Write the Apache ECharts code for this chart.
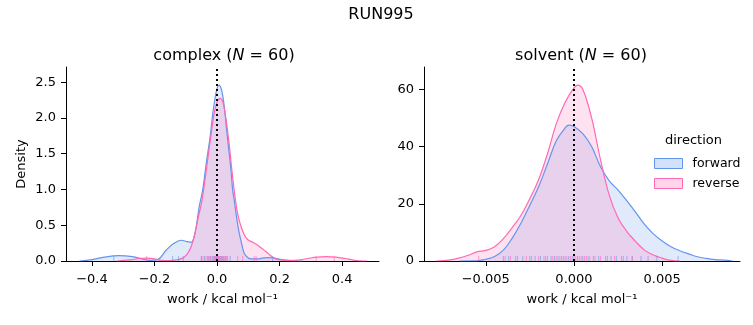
<!DOCTYPE html>
<html><head><meta charset="utf-8">
<script src="https://cdn.jsdelivr.net/npm/echarts@6/dist/echarts.min.js"></script>
<style>html,body{margin:0;padding:0;background:#fff}#c{width:753px;height:325px}</style>
</head><body><div id="c"></div>
<script>
// ---- complex panel: KDE curves ----
const cxFwdX = [-0.44,-0.40,-0.36,-0.313,-0.27,-0.24,-0.214,-0.19,-0.163,-0.14,-0.115,-0.095,-0.083,-0.07,-0.057,-0.046,-0.035,-0.022,-0.009,0.006,0.014,0.022,0.033,0.044,0.050,0.055,0.063,0.071,0.080,0.087,0.098,0.109,0.13,0.15,0.168,0.19,0.22,0.25,0.274];
const cxFwdY = [0,0.02,0.055,0.074,0.06,0.03,0.01,0.02,0.15,0.24,0.29,0.27,0.26,0.40,0.76,0.99,1.35,1.74,2.2,2.46,2.40,2.2,1.74,1.3,0.99,0.85,0.6,0.39,0.22,0.11,0.05,0.03,0.03,0.045,0.047,0.035,0.012,0.003,0];
const cxRevX = [-0.32,-0.28,-0.25,-0.225,-0.20,-0.18,-0.15,-0.13,-0.11,-0.095,-0.083,-0.072,-0.062,-0.048,-0.035,-0.02,-0.005,0.0096,0.02,0.036,0.048,0.059,0.068,0.077,0.087,0.098,0.115,0.13,0.145,0.157,0.17,0.183,0.20,0.23,0.26,0.29,0.32,0.35,0.38,0.41,0.43,0.454,0.48];
const cxRevY = [0,0.015,0.035,0.04,0.03,0.01,0.005,0.015,0.04,0.10,0.20,0.36,0.57,0.85,1.25,1.74,2.15,2.275,2.2,1.74,1.25,0.85,0.62,0.48,0.37,0.30,0.26,0.22,0.17,0.13,0.08,0.04,0.015,0.005,0.012,0.035,0.055,0.06,0.055,0.035,0.018,0.003,0];
const cxFwdRug = [-0.33,-0.142,-0.123,-0.108,-0.05,-0.04,-0.03,-0.025,-0.02,-0.015,-0.01,-0.006,-0.003,0,0.003,0.006,0.01,0.014,0.018,0.022,0.027,0.034,0.042,0.178];
const cxRevRug = [-0.225,-0.05,-0.045,-0.035,-0.028,-0.02,-0.012,-0.008,-0.004,-0.001,0.002,0.005,0.008,0.012,0.016,0.02,0.025,0.03,0.066,0.082,0.119,0.125,0.317,0.375];

// ---- solvent panel ----
const svFwdX = [-0.0065,-0.0055,-0.005,-0.0045,-0.004,-0.0035,-0.003,-0.0025,-0.002,-0.0015,-0.001,-0.0005,-0.0003,0,0.0005,0.001,0.0015,0.002,0.0025,0.003,0.0035,0.004,0.0045,0.005,0.0055,0.006,0.0065,0.007,0.0075,0.008,0.0085,0.009];
const svFwdY = [0,0.05,0.6,1.6,3.8,8,13.3,19.5,26,34,42,46.5,47.5,47,44.5,40,33,28,24.8,21,17,12.8,9.5,7,5,3.6,2.5,1.5,0.9,0.5,0.3,0];
const svRevX = [-0.0078,-0.007,-0.0066,-0.006,-0.0055,-0.005,-0.0045,-0.004,-0.0035,-0.003,-0.0025,-0.002,-0.0015,-0.001,-0.0005,0,0.0002,0.0005,0.001,0.0015,0.002,0.0025,0.003,0.0035,0.004,0.0045,0.005,0.0055,0.006];
const svRevY = [0,0.4,0.9,2,3.2,3.7,5,7.8,11.7,16,21.8,28.5,37.5,48,55.5,60.5,61.5,60,50,35.5,23,15,10.3,6.8,3.8,2.1,1,0.2,0];
const svFwdRug = [-0.0040,-0.0037,-0.0033,-0.0029,-0.0025,-0.0022,-0.0019,-0.0016,-0.0013,-0.0011,-0.0009,-0.0007,-0.0005,-0.0003,-0.0001,0.0002,0.0005,0.0008,0.0011,0.0014,0.0018,0.0021,0.0024,0.0027,0.0030,0.0033,0.0038,0.0042,0.0047,0.0059];
const svRevRug = [-0.0054,-0.0039,-0.0036,-0.0032,-0.0027,-0.0024,-0.0020,-0.0017,-0.0015,-0.0012,-0.0010,-0.0008,-0.0006,-0.0004,-0.0002,0.0000,0.0001,0.0003,0.0004,0.0006,0.0007,0.0009,0.0012,0.0015,0.0019,0.0023,0.0028,0.0033];

const cxTicksX = [-0.4,-0.2,0,0.2,0.4];
const cxTicksY = [0,0.5,1.0,1.5,2.0,2.5];
const svTicksX = [-0.005,0,0.005];
const svTicksY = [0,20,40,60];
const directions = ['forward','reverse'];

const BLUE = '#6495ED', PINK = '#FF69B4';
const BLUE_F = 'rgba(100,149,237,0.28)', PINK_F = 'rgba(255,105,180,0.28)';
const FONT = 'DejaVu Sans';
const zip = (a,b)=>a.map((v,i)=>[v,b[i]]);
const minus = s => s.replace('-','\u2212');

function axX(idx, min, max, ticks, dec){
  return {type:'value', gridIndex:idx, min, max, splitLine:{show:false},
    axisLine:{show:true,onZero:false,lineStyle:{color:'#000',width:1}},
    axisTick:{show:true,length:5,lineStyle:{color:'#000'},customValues:ticks},
    axisLabel:{customValues:ticks,color:'#000',fontFamily:FONT,fontSize:13,margin:8,
      rich:{t:{fontFamily:FONT,fontSize:13,color:'#000',padding:[4,0,0,0]}},
      formatter:v=>'{t|'+minus(Number(v).toFixed(dec))+'}'},
    name:'work / kcal mol\u207B\u00B9', nameLocation:'middle', nameGap:32, nameMoveOverlap:false,
    nameTextStyle:{color:'#000',fontFamily:FONT,fontSize:13}};
}
function axY(idx, min, max, ticks, dec, name){
  return {type:'value', gridIndex:idx, min, max, splitLine:{show:false},
    axisLine:{show:true,onZero:false,lineStyle:{color:'#000',width:1}},
    axisTick:{show:true,length:5,lineStyle:{color:'#000'},customValues:ticks},
    axisLabel:{customValues:ticks,color:'#000',fontFamily:FONT,fontSize:13,margin:10,
      formatter:v=>minus(Number(v).toFixed(dec))},
    name:name||'', nameLocation:'middle', nameGap:38, nameRotate:90,
    nameTextStyle:{color:'#000',fontFamily:FONT,fontSize:13}};
}
function kde(name, idx, data, col, fill){
  return {type:'line', name, xAxisIndex:idx, yAxisIndex:idx, data, smooth:0.4,
    showSymbol:false, symbol:'none', lineStyle:{color:col,width:1.2}, itemStyle:{color:col},
    areaStyle:{color:fill}, silent:true, z:2};
}
function rug(name, idx, vals, col){
  return {type:'scatter', name, xAxisIndex:idx, yAxisIndex:idx, data:vals.map(v=>[v,0]),
    symbol:'rect', symbolSize:[1,5], symbolOffset:[0,-2.5],
    itemStyle:{color:col,opacity:0.6}, silent:true, z:3};
}
function vline(idx){
  return {type:'line', xAxisIndex:idx, yAxisIndex:idx, data:[], silent:true,
    markLine:{symbol:'none', silent:true, label:{show:false},
      lineStyle:{color:'#000',type:[2,3],width:2}, data:[{xAxis:0}]}, z:4};
}

const chart = echarts.init(document.getElementById('c'), null, {renderer:'canvas'});
chart.setOption({
  animation:false,
  backgroundColor:'#fff',
  textStyle:{fontFamily:FONT},
  title:[
    {text:'RUN995', left:376, top:2, textAlign:'center', textStyle:{fontFamily:FONT,fontSize:16,fontWeight:'normal',color:'#000'}},
    {text:'complex ({i|N} = 60)', left:219, top:43, textAlign:'center',
      textStyle:{fontFamily:FONT,fontSize:16,fontWeight:'normal',color:'#000',rich:{i:{fontFamily:FONT,fontSize:16,fontStyle:'italic',color:'#000'}}}},
    {text:'solvent ({i|N} = 60)', left:576, top:43, textAlign:'center',
      textStyle:{fontFamily:FONT,fontSize:16,fontWeight:'normal',color:'#000',rich:{i:{fontFamily:FONT,fontSize:16,fontStyle:'italic',color:'#000'}}}}
  ],
  graphic:[{type:'text', left:665, top:134, style:{text:'direction', fontFamily:FONT, fontSize:13, fill:'#000'}}],
  legend:{orient:'vertical', left:649, top:152, itemWidth:28, itemHeight:10, itemGap:7,
    textStyle:{fontFamily:FONT,fontSize:12.5,color:'#000',padding:[0,0,0,5]},
    data:[
      {name:directions[0], icon:'rect', itemStyle:{color:BLUE_F,borderColor:BLUE,borderWidth:1}, lineStyle:{opacity:0}},
      {name:directions[1], icon:'rect', itemStyle:{color:PINK_F,borderColor:PINK,borderWidth:1}, lineStyle:{opacity:0}}
    ]},
  grid:[
    {left:66, top:67, width:313, height:194},
    {left:424, top:67, width:316, height:194}
  ],
  xAxis:[axX(0,-0.483,0.518,cxTicksX,1), axX(1,-0.0085,0.00941,svTicksX,3)],
  yAxis:[axY(0,0,2.713,cxTicksY,1,'Density'), axY(1,0,67.8,svTicksY,0,'')],
  series:[
    kde(directions[0],0,zip(cxFwdX,cxFwdY),BLUE,BLUE_F),
    kde(directions[1],0,zip(cxRevX,cxRevY),PINK,PINK_F),
    rug(directions[0],0,cxFwdRug,BLUE),
    rug(directions[1],0,cxRevRug,PINK),
    vline(0),
    kde(directions[0],1,zip(svFwdX,svFwdY),BLUE,BLUE_F),
    kde(directions[1],1,zip(svRevX,svRevY),PINK,PINK_F),
    rug(directions[0],1,svFwdRug,BLUE),
    rug(directions[1],1,svRevRug,PINK),
    vline(1)
  ]
});
</script></body></html>
